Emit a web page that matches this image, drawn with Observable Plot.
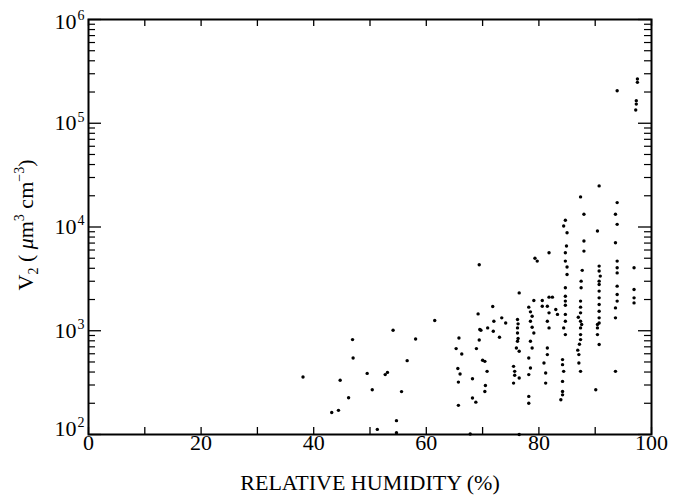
<!DOCTYPE html>
<html>
<head>
<meta charset="utf-8">
<script src="https://cdn.jsdelivr.net/npm/d3@7"></script>
<script src="https://cdn.jsdelivr.net/npm/@observablehq/plot@0.6"></script>
<style>
  html, body { margin: 0; padding: 0; background: #fff; }
  #chart { width: 685px; height: 503px; }
</style>
</head>
<body>
<div id="chart"></div>
<script>
// Relative humidity (%) of each observation
const humidity = [
  38.1, 46.9, 54.1, 58.1, 61.5, 47.0, 56.6, 49.5, 53.1, 52.7, 44.7, 50.4, 55.6, 46.2, 43.2, 44.4, 54.7, 51.3, 54.7,
  69.2, 71.8, 65.8, 65.3, 66.3, 68.9, 69.5, 69.4, 70.9, 71.9, 72.0, 73.0, 70.4, 70.8, 65.6, 65.7, 68.2, 70.5, 70.4,
  68.2, 68.8, 65.7, 67.8, 69.4, 73.4, 74.1, 69.7, 70.0, 66.0,
  76.5, 76.2, 76.3, 76.2, 76.3, 76.0, 76.5, 75.5, 75.7, 75.7, 75.5, 76.5, 76.5, 76.2, 76.2,
  79.3, 79.7, 79.1, 78.2, 78.5, 78.8, 78.5, 78.8, 79.1, 78.5, 78.8, 78.2, 78.5, 78.2, 78.2, 78.2,
  81.8, 80.6, 80.6, 81.8, 82.4, 81.5, 81.8, 83.0, 83.3, 81.5, 81.8, 81.5, 81.5, 80.9, 81.2, 81.2,
  84.7, 84.4, 85.0, 84.9, 84.7, 84.7, 85.0, 85.0, 84.7, 84.7, 84.7, 84.7, 84.7, 84.7, 84.4, 84.7, 84.2, 84.2, 84.4,
  84.2, 84.2, 84.2, 83.9,
  87.4, 88.0, 88.0, 88.0, 87.7, 87.5, 87.5, 87.4, 87.4, 87.4, 87.4, 87.4, 87.4, 87.4, 87.1, 87.1, 87.4, 87.0, 87.6,
  87.2, 86.9,
  90.7, 90.4, 90.7, 90.7, 90.9, 90.7, 90.7, 90.7, 90.7, 90.7, 90.7, 90.7, 90.7, 90.4, 90.4, 90.4, 90.7, 90.1,
  93.9, 93.6, 93.9, 93.6, 93.9, 93.9, 93.9, 93.9, 93.9, 93.9, 93.6, 93.6, 93.6, 93.9,
  96.9, 96.9, 96.9, 96.9, 97.5, 97.5, 97.3, 97.3, 97.2
];
// V2 (µm^3 cm^-3) of each observation
const volume = [
  358, 822, 1012, 833, 1254, 546, 515, 388, 397, 378, 333, 270, 259, 226, 163, 171, 136, 112, 104,
  1453, 1714, 851, 673, 597, 673, 1028, 815, 1065, 988, 1236, 865, 507, 406, 432, 320, 345, 297, 260,
  225, 205, 191, 101, 4325, 1331, 1189, 1011, 520, 383,
  2317, 1283, 1165, 952, 841, 682, 634, 454, 406, 372, 313, 350, 100, 1065, 792,
  4990, 4690, 1960, 1688, 1521, 1380, 1236, 1081, 952, 792, 682, 546, 437, 378, 233, 200,
  5650, 1960, 1725, 2109, 2109, 1725, 1487, 1604, 1437, 1236, 1065, 682, 589, 489, 391, 313,
  11620, 10230, 8810, 6550, 5650, 4690, 4110, 3490, 2596, 2153, 1930, 1760, 1437, 1236, 1065, 918, 527, 471, 406,
  325, 260, 241, 216,
  19500, 13270, 7330, 5860, 3820, 3008, 2596, 1930, 1688, 1487, 1236, 1065, 918, 822, 589, 489, 406, 1350, 1150,
  740, 650,
  24900, 9140, 4200, 3760, 3365, 3008, 2790, 2410, 2075, 1790, 1542, 1331, 1189, 1148, 1065, 918, 736, 270,
  17180, 13270, 10610, 7050, 4690, 4050, 3610, 2690, 2239, 1930, 1660, 1331, 406, 206000,
  4050, 2500, 2075, 1855, 267000, 248000, 165000, 153000, 134000
];

// Axis ticks and labels
const xTickValues = [0, 10, 20, 30, 40, 50, 60, 70, 80, 90, 100];
const xTickLabels = [0, 20, 40, 60, 80, 100];
const yDecades = [1e2, 1e3, 1e4, 1e5, 1e6];
const yExponents = ["2", "3", "4", "5", "6"];
const minorMultipliers = [2, 3, 4, 5, 6, 7, 8, 9];
const xTitle = "RELATIVE HUMIDITY (%)";

const W = 685, H = 503;
const mL = 88, mR = 34, mT = 19, mB = 69;
const plotW = W - mL - mR, plotH = H - mT - mB;
const serif = "Liberation Serif, Times New Roman, serif";

const points = humidity.map((h, i) => ({h, v: volume[i]}));
const yMinor = yDecades.slice(0, -1).flatMap(d => minorMultipliers.map(k => k * d));
const labels = yDecades.map((d, i) => ({d, e: yExponents[i]}));

function yLabelMarks(data, dy) {
  return [
    Plot.text(data, {y: "d", text: () => "10", frameAnchor: "left", dx: -12, dy, textAnchor: "end", fontSize: 22, fontFamily: serif, fill: "black"}),
    Plot.text(data, {y: "d", text: "e", frameAnchor: "left", dx: -11, dy: dy - 6, textAnchor: "start", fontSize: 14, fontFamily: serif, fill: "black"})
  ];
}

const chart = Plot.plot({
  width: W, height: H,
  marginLeft: mL, marginRight: mR, marginTop: mT, marginBottom: mB,
  style: {background: "white", fontFamily: serif, color: "black"},
  x: {domain: [0, 100], axis: null},
  y: {type: "log", domain: [100, 1e6], axis: null},
  marks: [
    // inward ticks
    Plot.tickX(xTickValues, {x: d => d, insetTop: plotH - 7, stroke: "black", strokeWidth: 1.3}),
    Plot.tickX(xTickValues, {x: d => d, insetBottom: plotH - 7, stroke: "black", strokeWidth: 1.3}),
    Plot.tickY(yDecades, {y: d => d, insetRight: plotW - 13, stroke: "black", strokeWidth: 1.3}),
    Plot.tickY(yDecades, {y: d => d, insetLeft: plotW - 13, stroke: "black", strokeWidth: 1.3}),
    Plot.tickY(yMinor, {y: d => d, insetRight: plotW - 7, stroke: "black", strokeWidth: 1.2}),
    Plot.tickY(yMinor, {y: d => d, insetLeft: plotW - 7, stroke: "black", strokeWidth: 1.2}),
    Plot.frame({stroke: "black", strokeWidth: 2}),
    // data
    Plot.dot(points, {x: "h", y: "v", r: 1.7, fill: "black", stroke: "none"}),
    // x tick labels
    Plot.text(xTickLabels, {x: d => d, text: d => String(d), frameAnchor: "bottom", dy: 15, fontSize: 22, fontFamily: serif, fill: "black"}),
    // y tick labels (10 with superscript exponent)
    ...yLabelMarks(labels.filter(l => l.d > 1e2 && l.d < 1e6), 0),
    ...yLabelMarks(labels.filter(l => l.d === 1e6), 2),
    ...yLabelMarks(labels.filter(l => l.d === 1e2), -6),
    // x title
    Plot.text([xTitle], {text: d => d, frameAnchor: "bottom", dy: 55, fontSize: 22, fontFamily: serif, fill: "black"})
  ]
});

document.getElementById("chart").appendChild(chart);

// y title with subscript / superscripts
const svg = d3.select(chart);
const t = svg.append("text")
  .attr("transform", "translate(33,225) rotate(-90)")
  .attr("text-anchor", "middle")
  .attr("font-family", serif)
  .attr("font-size", 22)
  .attr("fill", "black");
t.append("tspan").text("V");
t.append("tspan").attr("font-size", 14).attr("dy", 5).text("2");
t.append("tspan").attr("dy", -5).text(" ( ");
t.append("tspan").attr("font-style", "italic").text("\u03BC");
t.append("tspan").text("m");
t.append("tspan").attr("font-size", 14).attr("dy", -9).text("3");
t.append("tspan").attr("dy", 9).text(" cm");
t.append("tspan").attr("font-size", 14).attr("dy", -9).text("\u22123");
t.append("tspan").attr("dy", 9).text(")");
</script>
</body>
</html>
